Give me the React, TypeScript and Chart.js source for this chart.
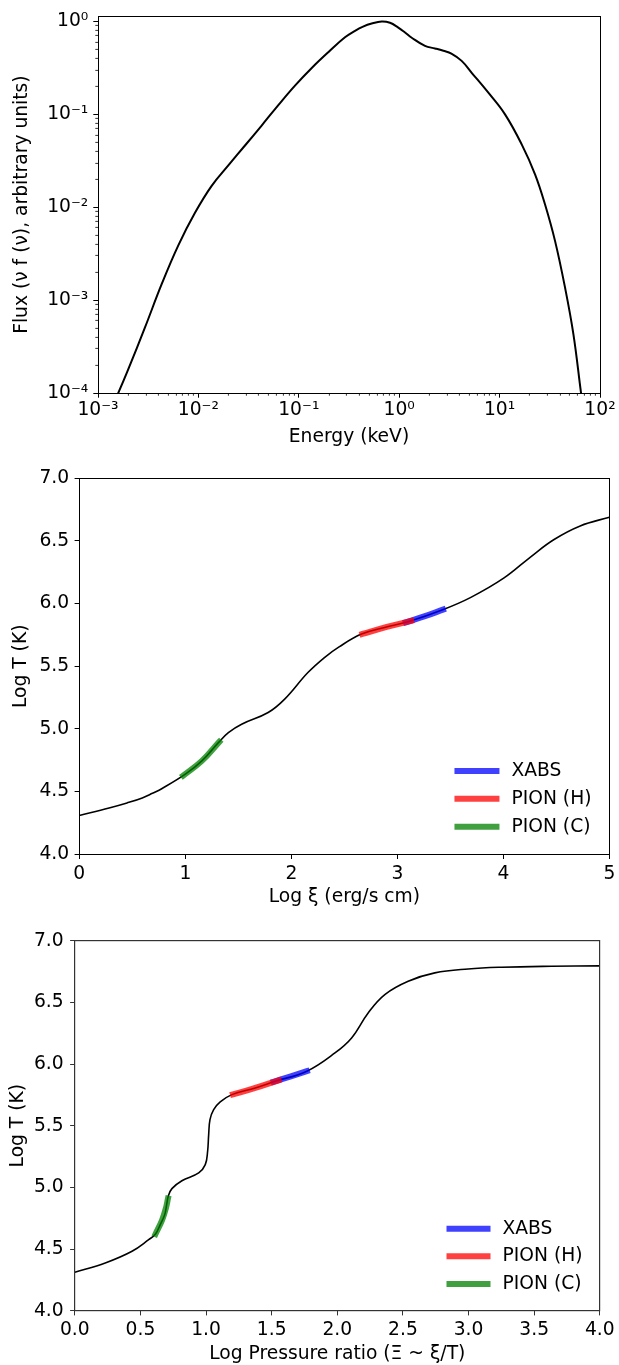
import React, { useEffect, useRef } from 'react';
import { Chart, registerables } from 'chart.js';

Chart.register(...registerables);

const FONT_FAMILY = '"DejaVu Sans", "Liberation Sans", sans-serif';
const FONT_SIZE = 18.7;

// ---------------- Panel 1: spectral energy distribution (log10 values) ----------------
const sedLogEnergy = [-2.85, -2.798, -2.698, -2.532, -2.366, -2.2, -2.034, -1.868, -1.702, -1.536, -1.37, -1.204, -1.038, -0.871, -0.706, -0.54, -0.44, -0.36, -0.274, -0.174, -0.092, -0.009, 0.058, 0.125, 0.257, 0.357, 0.44, 0.52, 0.622, 0.722, 0.888, 1.054, 1.22, 1.353, 1.452, 1.552, 1.652, 1.735, 1.811, 1.83];
const sedLogFlux = [-4.13, -4.0, -3.742, -3.294, -2.828, -2.41, -2.06, -1.77, -1.55, -1.335, -1.12, -0.9, -0.69, -0.5, -0.33, -0.17, -0.1, -0.055, -0.022, 0.0, -0.014, -0.066, -0.118, -0.175, -0.263, -0.29, -0.315, -0.345, -0.424, -0.552, -0.767, -1.0, -1.323, -1.645, -1.968, -2.362, -2.866, -3.366, -4.0, -4.15];
const sedXTickValues = [1e-3, 1e-2, 1e-1, 1, 10, 100];
const sedXTickLabels = ['10⁻³', '10⁻²', '10⁻¹', '10⁰', '10¹', '10²'];
const sedYTickValues = [1e-4, 1e-3, 1e-2, 1e-1, 1];
const sedYTickLabels = ['10⁻⁴', '10⁻³', '10⁻²', '10⁻¹', '10⁰'];

// ---------------- Panel 2: Log T vs Log xi ----------------
const xiLogXi = [0, 0.281, 0.45, 0.594, 0.69, 0.781, 1.0, 1.156, 1.312, 1.406, 1.531, 1.781, 1.937, 2.156, 2.312, 2.45, 2.662, 2.88, 3.1, 3.427, 3.693, 4.006, 4.255, 4.474, 4.724, 5.0];
const xiLogT = [4.31, 4.37, 4.41, 4.45, 4.487, 4.525, 4.639, 4.745, 4.891, 4.971, 5.038, 5.131, 5.238, 5.45, 5.57, 5.655, 5.757, 5.81, 5.855, 5.951, 6.05, 6.205, 6.372, 6.51, 6.62, 6.69];
const xiXabsLogXi = [3.08, 3.26, 3.43];
const xiXabsLogT = [5.851, 5.9, 5.952];
const xiPionHLogXi = [2.67, 2.9, 3.13];
const xiPionHLogT = [5.758, 5.814, 5.862];
const xiPionCLogXi = [0.98, 1.156, 1.32];
const xiPionCLogT = [4.628, 4.745, 4.897];
const xiXTickValues = [0, 1, 2, 3, 4, 5];
const xiXTickLabels = ['0', '1', '2', '3', '4', '5'];

// ---------------- Panel 3: Log T vs Log pressure ratio ----------------
const prLogP = [0, 0.232, 0.436, 0.563, 0.615, 0.651, 0.685, 0.70, 0.712, 0.74, 0.816, 0.944, 0.994, 1.012, 1.02, 1.03, 1.058, 1.108, 1.197, 1.375, 1.527, 1.768, 1.982, 2.109, 2.235, 2.362, 2.54, 2.743, 2.997, 3.251, 3.632, 4.0];
const prLogT = [4.311, 4.387, 4.482, 4.576, 4.622, 4.698, 4.779, 4.86, 4.928, 4.99, 5.054, 5.117, 5.184, 5.293, 5.428, 5.549, 5.63, 5.693, 5.752, 5.806, 5.86, 5.942, 6.09, 6.212, 6.414, 6.563, 6.671, 6.739, 6.771, 6.785, 6.793, 6.796];
const prXabsLogP = [1.515, 1.64, 1.768];
const prXabsLogT = [5.856, 5.898, 5.942];
const prPionHLogP = [1.205, 1.375, 1.553];
const prPionHLogT = [5.754, 5.806, 5.868];
const prPionCLogP = [0.615, 0.665, 0.695, 0.71];
const prPionCLogT = [4.622, 4.735, 4.835, 4.91];
const prXTickValues = [0, 0.5, 1, 1.5, 2, 2.5, 3, 3.5, 4];
const prXTickLabels = ['0.0', '0.5', '1.0', '1.5', '2.0', '2.5', '3.0', '3.5', '4.0'];

// shared Log T axis
const logTTickValues = [4, 4.5, 5, 5.5, 6, 6.5, 7];
const logTTickLabels = ['4.0', '4.5', '5.0', '5.5', '6.0', '6.5', '7.0'];

const SERIES_LABELS = ['XABS', 'PION (H)', 'PION (C)'];
const SERIES_COLORS = ['rgba(0,0,255,0.75)', 'rgba(255,0,0,0.75)', 'rgba(0,128,0,0.75)'];

// ---------------- helpers ----------------
function pts(xs: number[], ys: number[]) {
  return xs.map((x, i) => ({ x, y: ys[i] }));
}
function logPts(lx: number[], ly: number[]) {
  return lx.map((x, i) => ({ x: Math.pow(10, x), y: Math.pow(10, ly[i]) }));
}

const font = { family: FONT_FAMILY, size: FONT_SIZE };

function makeAxis(o: {
  type: string; min: number; max: number; values: number[]; labels: string[];
  title: string; titlePad: number; tickPad: number; fitSize: number; isX: boolean; color: string;
}) {
  return {
    type: o.type,
    position: o.isX ? 'bottom' : 'left',
    min: o.min,
    max: o.max,
    afterBuildTicks: (scale: any) => {
      scale.ticks = o.values.map((v) => ({ value: v }));
    },
    afterFit: (scale: any) => {
      if (o.isX) scale.height = o.fitSize; else scale.width = o.fitSize;
    },
    ticks: {
      autoSkip: false,
      maxRotation: 0,
      minRotation: 0,
      padding: o.tickPad,
      color: '#000',
      font,
      callback: (value: number) => {
        const i = o.values.findIndex((v) => Math.abs(v - value) <= Math.abs(v) * 1e-6 + 1e-9);
        return i >= 0 ? o.labels[i] : '';
      },
    },
    grid: {
      display: true,
      drawOnChartArea: false,
      drawTicks: true,
      tickLength: 4.7,
      tickColor: o.color,
      tickWidth: 1,
    },
    border: { display: false },
    title: {
      display: true,
      text: o.title,
      color: '#000',
      font,
      padding: o.isX ? { top: 0, bottom: o.titlePad } : { top: o.titlePad, bottom: 0 },
    },
  };
}

function alignPx(p: number, w: number) {
  return Math.round(p - w / 2) + w / 2;
}

function framePlugin(color: string, width: number) {
  return {
    id: 'frame',
    afterDraw(chart: any) {
      const { ctx, chartArea: a } = chart;
      const l = alignPx(a.left, width);
      const r = alignPx(a.right, width);
      const t = alignPx(a.top, width);
      const b = alignPx(a.bottom, width);
      ctx.save();
      ctx.strokeStyle = color;
      ctx.lineWidth = width;
      ctx.strokeRect(l, t, r - l, b - t);
      ctx.restore();
    },
  };
}

const minorTicksPlugin = {
  id: 'minorTicks',
  afterDraw(chart: any) {
    const { ctx, chartArea: a, scales } = chart;
    ctx.save();
    ctx.strokeStyle = '#000';
    ctx.lineWidth = 0.8;
    ctx.beginPath();
    const minors = (s: any) => {
      const out: number[] = [];
      const lo = Math.floor(Math.log10(s.min));
      const hi = Math.ceil(Math.log10(s.max));
      for (let e = lo; e <= hi; e++) {
        for (let k = 2; k < 10; k++) {
          const v = k * Math.pow(10, e);
          if (v >= s.min && v <= s.max) out.push(v);
        }
      }
      return out;
    };
    for (const v of minors(scales.x)) {
      const px = alignPx(scales.x.getPixelForValue(v), 0.8);
      ctx.moveTo(px, a.bottom);
      ctx.lineTo(px, a.bottom + 2.7);
    }
    for (const v of minors(scales.y)) {
      const py = alignPx(scales.y.getPixelForValue(v), 0.8);
      ctx.moveTo(a.left, py);
      ctx.lineTo(a.left - 2.7, py);
    }
    ctx.stroke();
    ctx.restore();
  },
};

function legendPlugin(lineFromRight: number, lineToRight: number, textFromRight: number, rowsFromBottom: number[]) {
  return {
    id: 'insetLegend',
    afterDraw(chart: any) {
      const { ctx, chartArea: a } = chart;
      const items = chart.data.datasets.filter((d: any) => d.label);
      ctx.save();
      ctx.font = `${FONT_SIZE}px ${FONT_FAMILY}`;
      ctx.textBaseline = 'middle';
      ctx.textAlign = 'left';
      ctx.fillStyle = '#000';
      items.forEach((d: any, i: number) => {
        const y = a.bottom - rowsFromBottom[i];
        ctx.strokeStyle = d.borderColor;
        ctx.lineWidth = d.borderWidth;
        ctx.lineCap = 'butt';
        ctx.beginPath();
        ctx.moveTo(a.right - lineFromRight, y);
        ctx.lineTo(a.right - lineToRight, y);
        ctx.stroke();
        ctx.fillText(d.label, a.right - textFromRight, y);
      });
      ctx.restore();
    },
  };
}

function lineDataset(data: any[], color: string, width: number, order: number, label = '') {
  return {
    label,
    data,
    borderColor: color,
    backgroundColor: color,
    borderWidth: width,
    pointRadius: 0,
    pointHoverRadius: 0,
    fill: false,
    tension: 0.4,
    borderCapStyle: label ? 'square' : 'butt',
    borderJoinStyle: 'round',
    clip: 0,
    order,
  };
}

function baseOptions(padding: any, scales: any) {
  return {
    responsive: false,
    maintainAspectRatio: false,
    animation: false,
    devicePixelRatio: 1,
    events: [],
    layout: { padding },
    plugins: { legend: { display: false }, tooltip: { enabled: false } },
    scales,
  };
}

function buildSed() {
  return {
    type: 'line',
    data: {
      datasets: [lineDataset(logPts(sedLogEnergy, sedLogFlux), '#000', 2, 1)],
    },
    options: baseOptions({ top: 16, right: 19, left: 0, bottom: 0 }, {
      x: makeAxis({ type: 'logarithmic', min: 1e-3, max: 100, values: sedXTickValues, labels: sedXTickLabels, title: 'Energy (keV)', titlePad: 6.8, tickPad: 1, fitSize: 62, isX: true, color: '#000' }),
      y: makeAxis({ type: 'logarithmic', min: 1e-4, max: 1.14, values: sedYTickValues, labels: sedYTickLabels, title: 'Flux (ν f (ν), arbitrary units)', titlePad: 10.8, tickPad: 5, fitSize: 98, isX: false, color: '#000' }),
    }),
    plugins: [minorTicksPlugin, framePlugin('#000', 1)],
  };
}

function buildXi() {
  return {
    type: 'line',
    data: {
      datasets: [
        lineDataset(pts(xiXabsLogXi, xiXabsLogT), SERIES_COLORS[0], 6, 3, SERIES_LABELS[0]),
        lineDataset(pts(xiPionHLogXi, xiPionHLogT), SERIES_COLORS[1], 6, 2, SERIES_LABELS[1]),
        lineDataset(pts(xiPionCLogXi, xiPionCLogT), SERIES_COLORS[2], 6, 1, SERIES_LABELS[2]),
        lineDataset(pts(xiLogXi, xiLogT), '#000', 1.6, 4),
      ],
    },
    options: baseOptions({ top: 23.3, right: 7, left: 0, bottom: 0 }, {
      x: makeAxis({ type: 'linear', min: 0, max: 5, values: xiXTickValues, labels: xiXTickLabels, title: 'Log ξ (erg/s cm)', titlePad: 6.8, tickPad: 3.6, fitSize: 60.7, isX: true, color: '#000' }),
      y: makeAxis({ type: 'linear', min: 4, max: 7, values: logTTickValues, labels: logTTickLabels, title: 'Log T (K)', titlePad: 10.3, tickPad: 5.5, fitSize: 79.3, isX: false, color: '#000' }),
    }),
    plugins: [framePlugin('#000', 1), legendPlugin(155, 110, 98, [83.3, 55.6, 27.6])],
  };
}

function buildPressure() {
  return {
    type: 'line',
    data: {
      datasets: [
        lineDataset(pts(prXabsLogP, prXabsLogT), SERIES_COLORS[0], 6, 3, SERIES_LABELS[0]),
        lineDataset(pts(prPionHLogP, prPionHLogT), SERIES_COLORS[1], 6, 2, SERIES_LABELS[1]),
        lineDataset(pts(prPionCLogP, prPionCLogT), SERIES_COLORS[2], 6, 1, SERIES_LABELS[2]),
        lineDataset(pts(prLogP, prLogT), '#000', 1.6, 4),
      ],
    },
    options: baseOptions({ top: 25.7, right: 19.2, left: 0, bottom: 0 }, {
      x: makeAxis({ type: 'linear', min: 0, max: 4, values: prXTickValues, labels: prXTickLabels, title: 'Log Pressure ratio (Ξ ~ ξ/T)', titlePad: 0, tickPad: 3.2, fitSize: 54.3, isX: true, color: '#333' }),
      y: makeAxis({ type: 'linear', min: 4, max: 7, values: logTTickValues, labels: logTTickLabels, title: 'Log T (K)', titlePad: 7.3, tickPad: 6.5, fitSize: 74.8, isX: false, color: '#333' }),
    }),
    plugins: [framePlugin('#333', 1.2), legendPlugin(153.3, 109.3, 97.3, [82, 54.4, 26.7])],
  };
}

function ChartPanel({ top, height, build }: { top: number; height: number; build: () => any }) {
  const ref = useRef<HTMLCanvasElement>(null);
  useEffect(() => {
    const chart = new Chart(ref.current as HTMLCanvasElement, build());
    return () => chart.destroy();
  }, []);
  return (
    <canvas
      ref={ref}
      width={619}
      height={height}
      style={{ position: 'absolute', left: 0, top, width: 619, height, display: 'block' }}
    />
  );
}

export default function App() {
  return (
    <div style={{ position: 'absolute', left: 0, top: 0, width: 619, height: 1365, background: '#fff', overflow: 'hidden' }}>
      <ChartPanel top={0} height={455} build={buildSed} />
      <ChartPanel top={455} height={460} build={buildXi} />
      <ChartPanel top={915} height={450} build={buildPressure} />
    </div>
  );
}
